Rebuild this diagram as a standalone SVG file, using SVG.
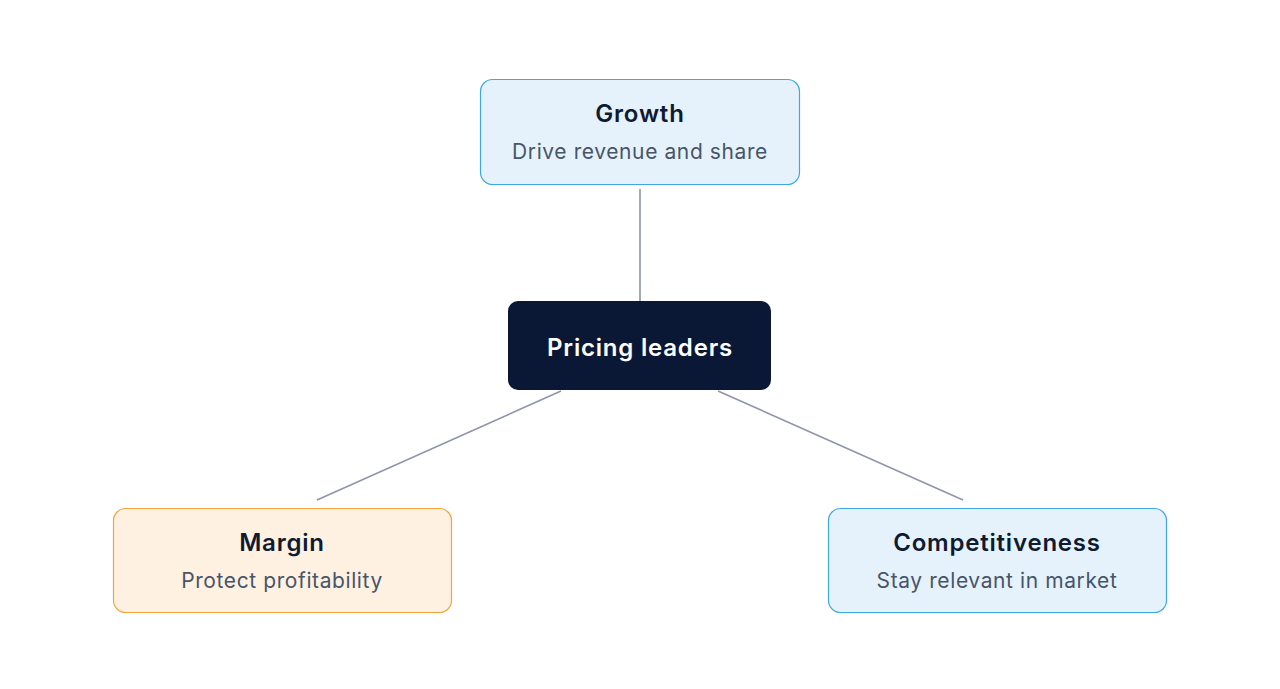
<svg xmlns="http://www.w3.org/2000/svg" width="1280" height="689" viewBox="0 0 1280 689">
<style>
.title{font-family:Inter,"Noto Sans",sans-serif;font-size:24px;font-weight:600;fill:#0f1a33;text-anchor:middle;letter-spacing:0.8px}
.sub{font-family:Inter,"Noto Sans",sans-serif;font-size:21px;font-weight:400;fill:#475569;text-anchor:middle;letter-spacing:0.6px}
.blue{fill:#e6f2fb;stroke:#3ea8e5;stroke-width:1.2}
.orange{fill:#fff1e1;stroke:#f5a33c;stroke-width:1.2}
.conn{stroke:#8e94aa;stroke-width:1.6;fill:none}
</style>
<rect width="1280" height="689" fill="#ffffff"/>
<g id="connectors">
<line class="conn" x1="640" y1="189" x2="640" y2="301"/>
<line class="conn" x1="561" y1="391" x2="317" y2="500"/>
<line class="conn" x1="718" y1="391" x2="963" y2="500"/>
</g>
<g id="growth">
<rect class="blue" x="480.5" y="79.5" width="319" height="105" rx="12"/>
<text class="title" x="640" y="122">Growth</text>
<text class="sub" x="640" y="159">Drive revenue and share</text>
</g>
<g id="pricing-leaders">
<rect x="508" y="301" width="263" height="89" rx="10" fill="#0b1835"/>
<text class="title" x="640" y="356" style="fill:#ffffff">Pricing leaders</text>
</g>
<g id="margin">
<rect class="orange" x="113.5" y="508.5" width="338" height="104" rx="12"/>
<text class="title" x="282" y="551">Margin</text>
<text class="sub" x="282" y="588">Protect profitability</text>
</g>
<g id="competitiveness">
<rect class="blue" x="828.5" y="508.5" width="338" height="104" rx="12"/>
<text class="title" x="997" y="551">Competitiveness</text>
<text class="sub" x="997" y="588">Stay relevant in market</text>
</g>
</svg>
